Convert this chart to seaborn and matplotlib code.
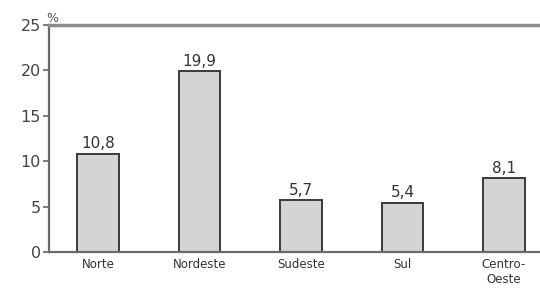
import matplotlib
matplotlib.use("Agg")
import matplotlib.pyplot as plt
import seaborn as sns
import pandas as pd

categories = ["Norte", "Nordeste", "Sudeste", "Sul", "Centro-\nOeste"]
values = [10.8, 19.9, 5.7, 5.4, 8.1]
value_labels = ["10,8", "19,9", "5,7", "5,4", "8,1"]
yticks = [0, 5, 10, 15, 20, 25]

sns.set_style("white")
plt.rcParams['font.family'] = ['DejaVu Sans']

df = pd.DataFrame({"regiao": categories, "valor": values})

fig = plt.figure(figsize=(5.4, 2.89), dpi=100)
ax = fig.add_axes([49/540, 1 - 252/289, (540 - 49)/540, (252 - 25)/289])

sns.barplot(data=df, x="regiao", y="valor", ax=ax, color="#d4d4d4",
            edgecolor="#3a3a3a", linewidth=1.4, width=0.41, saturation=1)

for i, (v, lab) in enumerate(zip(values, value_labels)):
    ax.text(i, v + 0.3, lab, ha="center", va="bottom", fontsize=11, color="#333333")

ax.set_ylim(0, 25)
ax.set_xlim(-0.483, 4.355)
ax.set_yticks(yticks)
ax.set_yticklabels([str(t) for t in yticks], fontsize=11.5, color="#444444")
ax.tick_params(axis="y", direction="out", length=4, width=1.2, color="#666666", pad=2, left=True)
ax.tick_params(axis="x", length=0, labelsize=8.5, labelcolor="#333333", pad=4)
ax.set_xlabel("")
ax.set_ylabel("")

for s in ["left", "bottom"]:
    ax.spines[s].set_color("#6a6a6a")
    ax.spines[s].set_linewidth(1.6)
ax.spines["top"].set_color("#8a8a8a")
ax.spines["top"].set_linewidth(2.5)
ax.spines["right"].set_visible(False)

ax.text(0.006, 1.0, "%", transform=ax.transAxes, fontsize=9, color="#555555",
        ha="center", va="bottom")

fig.savefig("out.png", dpi=100)
